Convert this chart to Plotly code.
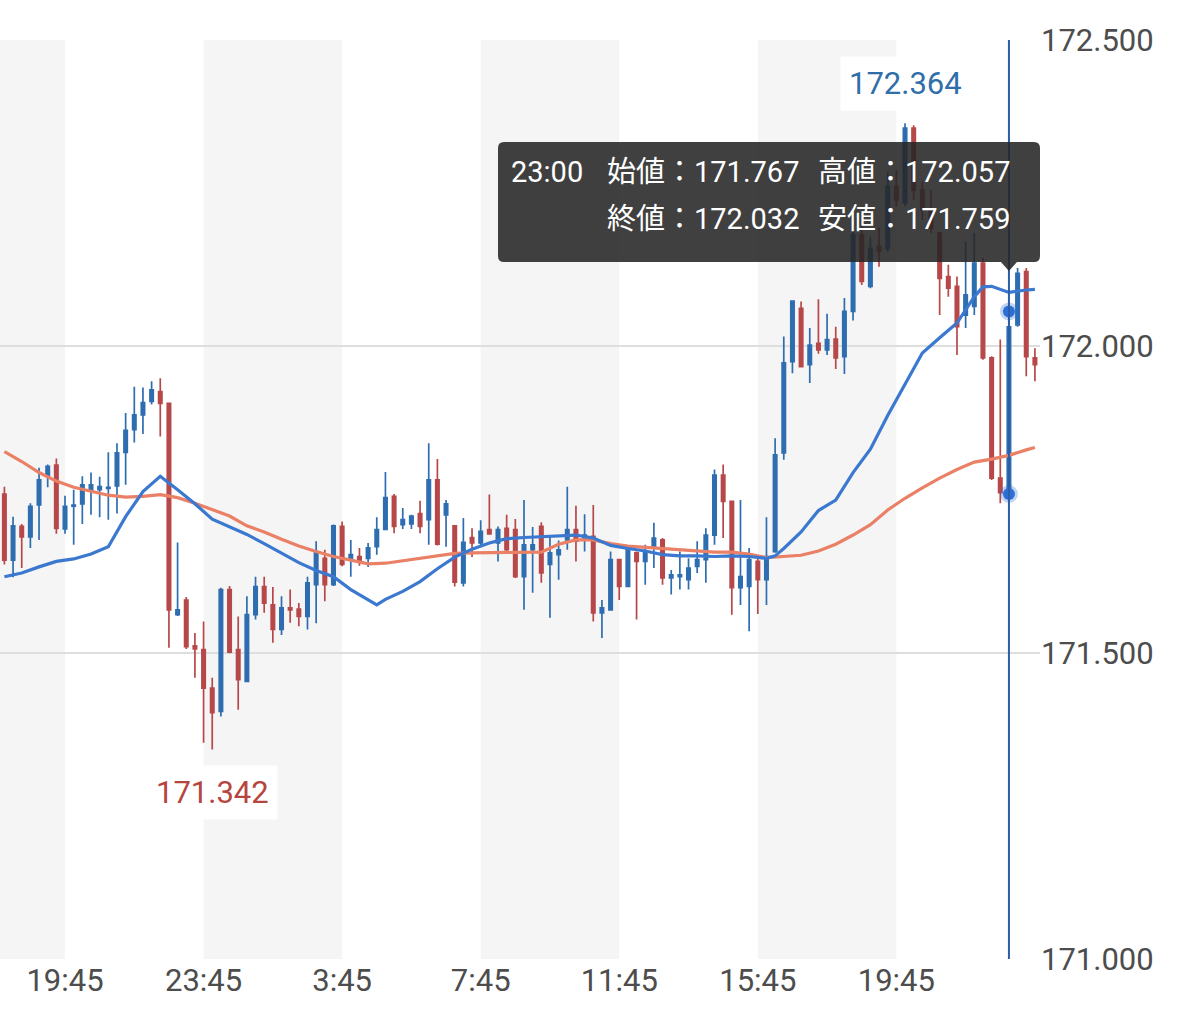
import pandas as pd
import plotly.graph_objects as go

# 15分足 (18:00 ～ 翌日 23:45)
times = pd.date_range("2024-06-11 18:00", periods=120, freq="15min")

opens = [171.759, 171.651, 171.706, 171.689, 171.741, 171.788, 171.806, 171.702, 171.739, 171.743,
         171.765, 171.766, 171.768, 171.772, 171.827, 171.864, 171.888, 171.910, 171.926, 171.907,
         171.562, 171.586, 171.511, 171.505, 171.442, 171.404, 171.603, 171.505, 171.453, 171.562,
         171.608, 171.578, 171.538, 171.573, 171.571, 171.559, 171.611, 171.654, 171.611, 171.706,
         171.652, 171.657, 171.654, 171.673, 171.701, 171.755, 171.709, 171.710, 171.727, 171.717,
         171.782, 171.725, 171.707, 171.614, 171.688, 171.679, 171.701, 171.679, 171.703, 171.701,
         171.624, 171.668, 171.706, 171.644, 171.660, 171.684, 171.701, 171.684, 171.690, 171.565,
         171.570, 171.652, 171.608, 171.663, 171.649, 171.673, 171.684, 171.622, 171.624, 171.619,
         171.641, 171.652, 171.692, 171.790, 171.747, 171.606, 171.608, 171.649, 171.619, 171.665,
         171.826, 171.975, 172.062, 171.970, 172.005, 171.994, 172.012, 171.983, 172.057, 172.182,
         172.098, 172.163, 172.160, 172.261, 172.234, 172.356, 172.255, 172.223, 172.185, 172.114,
         172.098, 172.051, 172.065, 172.136, 171.981, 171.785, 171.767, 172.035, 172.122, 171.981]
highs = [171.771, 171.722, 171.710, 171.744, 171.802, 171.807, 171.817, 171.756, 171.766, 171.788,
         171.794, 171.787, 171.827, 171.842, 171.891, 171.934, 171.933, 171.943, 171.948, 171.908,
         171.680, 171.591, 171.532, 171.551, 171.459, 171.606, 171.609, 171.559, 171.592, 171.624,
         171.624, 171.607, 171.592, 171.603, 171.581, 171.624, 171.682, 171.668, 171.709, 171.714,
         171.684, 171.671, 171.679, 171.721, 171.795, 171.759, 171.736, 171.725, 171.748, 171.842,
         171.816, 171.749, 171.708, 171.720, 171.703, 171.716, 171.758, 171.706, 171.725, 171.718,
         171.749, 171.705, 171.713, 171.690, 171.683, 171.771, 171.740, 171.726, 171.741, 171.586,
         171.665, 171.653, 171.668, 171.665, 171.676, 171.712, 171.687, 171.635, 171.665, 171.654,
         171.682, 171.703, 171.799, 171.807, 171.748, 171.749, 171.671, 171.655, 171.721, 171.850,
         172.016, 172.075, 172.073, 172.030, 172.077, 172.053, 172.032, 172.079, 172.198, 172.206,
         172.179, 172.193, 172.285, 172.288, 172.364, 172.361, 172.269, 172.255, 172.187, 172.133,
         172.114, 172.171, 172.185, 172.144, 171.984, 172.011, 172.057, 172.128, 172.128, 171.997]
lows = [171.644, 171.623, 171.638, 171.671, 171.684, 171.770, 171.694, 171.694, 171.676, 171.710,
        171.725, 171.721, 171.717, 171.727, 171.774, 171.843, 171.857, 171.905, 171.853, 171.508,
        171.560, 171.506, 171.459, 171.353, 171.342, 171.396, 171.499, 171.407, 171.452, 171.554,
        171.565, 171.516, 171.529, 171.549, 171.543, 171.538, 171.548, 171.584, 171.609, 171.641,
        171.624, 171.642, 171.640, 171.660, 171.700, 171.695, 171.702, 171.702, 171.695, 171.676,
        171.675, 171.673, 171.608, 171.608, 171.656, 171.675, 171.693, 171.649, 171.665, 171.622,
        171.570, 171.598, 171.614, 171.557, 171.619, 171.668, 171.649, 171.665, 171.551, 171.524,
        171.569, 171.586, 171.607, 171.554, 171.611, 171.638, 171.611, 171.595, 171.603, 171.603,
        171.630, 171.614, 171.676, 171.687, 171.562, 171.578, 171.535, 171.563, 171.578, 171.663,
        171.815, 171.956, 171.966, 171.940, 171.988, 171.986, 171.963, 171.955, 172.042, 172.100,
        172.095, 172.130, 172.154, 172.228, 172.229, 172.239, 172.206, 172.185, 172.051, 172.081,
        171.986, 172.030, 172.051, 171.978, 171.782, 171.744, 171.759, 172.032, 171.951, 171.943]
closes = [171.651, 171.707, 171.689, 171.739, 171.782, 171.804, 171.703, 171.739, 171.741, 171.774,
          171.774, 171.771, 171.770, 171.826, 171.863, 171.888, 171.908, 171.929, 171.907, 171.570,
          171.570, 171.510, 171.506, 171.442, 171.402, 171.603, 171.501, 171.456, 171.562, 171.608,
          171.581, 171.538, 171.573, 171.570, 171.559, 171.614, 171.665, 171.611, 171.707, 171.644,
          171.660, 171.649, 171.671, 171.701, 171.753, 171.706, 171.717, 171.723, 171.706, 171.782,
          171.677, 171.743, 171.615, 171.680, 171.679, 171.698, 171.694, 171.701, 171.668, 171.624,
          171.676, 171.676, 171.630, 171.663, 171.668, 171.701, 171.682, 171.692, 171.565, 171.573,
          171.652, 171.608, 171.668, 171.649, 171.663, 171.687, 171.622, 171.627, 171.627, 171.638,
          171.652, 171.692, 171.790, 171.747, 171.606, 171.624, 171.652, 171.619, 171.657, 171.823,
          171.973, 172.074, 171.967, 172.002, 171.994, 172.011, 171.981, 172.057, 172.182, 172.106,
          172.160, 172.155, 172.261, 172.239, 172.356, 172.255, 172.223, 172.193, 172.111, 172.095,
          172.032, 172.084, 172.136, 171.981, 171.785, 171.761, 172.032, 172.119, 171.983, 171.970]

# 移動平均線 (読み取り値)
ma_fast_idx = [0, 2, 4, 6, 8, 10, 12, 13, 14, 16, 18, 20, 22, 24, 26, 28, 30, 32, 34, 36, 38, 40,
               42, 43, 44, 46, 48, 50, 52, 54, 56, 58, 60, 62, 64, 66, 68, 70, 72, 74, 76, 78, 80,
               82, 84, 86, 88, 89, 90, 92, 94, 96, 98, 100, 102, 104, 106, 108, 110, 112, 113, 114,
               116, 118, 119]
ma_fast = [171.624, 171.630, 171.640, 171.649, 171.653, 171.661, 171.673, 171.697, 171.722, 171.763,
           171.788, 171.766, 171.743, 171.718, 171.706, 171.693, 171.678, 171.662, 171.647, 171.634,
           171.624, 171.603, 171.586, 171.578, 171.587, 171.600, 171.616, 171.637, 171.656, 171.669,
           171.679, 171.686, 171.688, 171.689, 171.690, 171.692, 171.687, 171.675, 171.670, 171.666,
           171.660, 171.658, 171.658, 171.657, 171.658, 171.657, 171.654, 171.658, 171.670, 171.697,
           171.732, 171.749, 171.794, 171.832, 171.887, 171.937, 171.989, 172.014, 172.038, 172.081,
           172.097, 172.098, 172.088, 172.092, 172.093]
ma_slow_idx = list(range(0, 120, 2)) + [119]
ma_slow = [171.828, 171.812, 171.794, 171.780, 171.770, 171.763, 171.757, 171.754, 171.755, 171.758,
           171.753, 171.744, 171.734, 171.723, 171.707, 171.697, 171.685, 171.674, 171.665, 171.657,
           171.651, 171.645, 171.646, 171.650, 171.654, 171.659, 171.662, 171.663, 171.663, 171.663,
           171.663, 171.664, 171.677, 171.684, 171.684, 171.678, 171.674, 171.672, 171.670, 171.668,
           171.666, 171.664, 171.664, 171.661, 171.655, 171.657, 171.659, 171.666, 171.677, 171.692,
           171.709, 171.733, 171.752, 171.769, 171.785, 171.799, 171.811, 171.816, 171.822, 171.831,
           171.835]

y_ticks = [171.0, 171.5, 172.0, 172.5]
x_ticks = pd.date_range("2024-06-11 19:45", periods=7, freq="4h")
hover_i = 116  # 23:00 の足

BLUE = "#2e6db0"
RED = "#b7484a"
FONT = "Roboto, 'Noto Sans CJK JP', sans-serif"
AXIS_GRAY = "#4d4d4d"

fig = go.Figure()

fig.add_trace(go.Candlestick(
    x=times, open=opens, high=highs, low=lows, close=closes,
    increasing=dict(line=dict(color=BLUE, width=1.7), fillcolor=BLUE),
    decreasing=dict(line=dict(color=RED, width=1.7), fillcolor=RED),
    whiskerwidth=0, hoverinfo="skip", showlegend=False,
))
fig.add_trace(go.Scatter(x=[times[i] for i in ma_slow_idx], y=ma_slow, mode="lines",
                         line=dict(color="#ea8066", width=3.2), hoverinfo="skip", showlegend=False))
fig.add_trace(go.Scatter(x=[times[i] for i in ma_fast_idx], y=ma_fast, mode="lines",
                         line=dict(color="#3b78cf", width=3.2), hoverinfo="skip", showlegend=False))

x_left = pd.Timestamp("2024-06-11 17:52:23")
x_right = pd.Timestamp("2024-06-12 23:53:48")

# 背景の縞
band_edges = [x_left] + list(x_ticks)
for k in range(0, len(band_edges) - 1, 2):
    fig.add_shape(type="rect", xref="x", yref="paper", x0=band_edges[k], x1=band_edges[k + 1],
                  y0=0, y1=1, fillcolor="#f5f5f5", line_width=0, layer="below")

# カーソル線とマーカー
fig.add_shape(type="line", xref="x", yref="paper", x0=times[hover_i], x1=times[hover_i], y0=0, y1=1,
              line=dict(color="#2b5ea7", width=2), layer="above")
fig.add_trace(go.Scatter(x=[times[hover_i]] * 2, y=[highs[hover_i], lows[hover_i]], mode="markers",
                         marker=dict(size=12, color="#2f6fd6",
                                     line=dict(color="rgba(47,111,214,0.3)", width=6)),
                         hoverinfo="skip", showlegend=False))

# 最高値・最安値ラベル
i_hi = highs.index(max(highs))
i_lo = lows.index(min(lows))
fig.add_annotation(x=times[i_hi], y=highs[i_hi], text=f"{highs[i_hi]:.3f}", showarrow=False, yshift=40,
                   font=dict(family=FONT, size=31, color="#2f6ea9"), bgcolor="white", borderpad=8)
fig.add_annotation(x=times[i_lo], y=lows[i_lo], text=f"{lows[i_lo]:.3f}", showarrow=False, yshift=-43,
                   font=dict(family=FONT, size=31, color="#b5453e"), bgcolor="white", borderpad=8)

# ツールチップ
W, H = 1040.0, 919.0
def px(x):
    return x / W
def py(y):
    return (959 - y) / H
x0, x1, y0, y1, r = 498, 1040, 142, 262, 6
tip = (times[hover_i] - x_left) / (x_right - x_left) * W
path = (f"M {px(x0 + r)},{py(y0)} L {px(x1 - r)},{py(y0)} Q {px(x1)},{py(y0)} {px(x1)},{py(y0 + r)} "
        f"L {px(x1)},{py(y1 - r)} Q {px(x1)},{py(y1)} {px(x1 - r)},{py(y1)} "
        f"L {px(tip + 8)},{py(y1)} L {px(tip)},{py(y1 + 9)} L {px(tip - 8)},{py(y1)} "
        f"L {px(x0 + r)},{py(y1)} Q {px(x0)},{py(y1)} {px(x0)},{py(y1 - r)} "
        f"L {px(x0)},{py(y0 + r)} Q {px(x0)},{py(y0)} {px(x0 + r)},{py(y0)} Z")
fig.add_shape(type="path", xref="paper", yref="paper", path=path,
              fillcolor="rgba(38,38,38,0.88)", line_width=0, layer="above")

tt_font = dict(family=FONT, size=29, color="white")
t_label = times[hover_i].strftime("%-H:%M")
tooltip_parts = [
    (510, 172, t_label),
    (606, 172, f"始値：{opens[hover_i]:.3f}"),
    (817, 172, f"高値：{highs[hover_i]:.3f}"),
    (606, 219, f"終値：{closes[hover_i]:.3f}"),
    (817, 219, f"安値：{lows[hover_i]:.3f}"),
]
for tx, ty, txt in tooltip_parts:
    fig.add_annotation(xref="paper", yref="paper", x=px(tx), y=py(ty), xanchor="left", yanchor="middle",
                       text=txt, showarrow=False, font=tt_font, borderpad=0)

fig.update_layout(
    width=1179, height=1017,
    margin=dict(l=0, r=139, t=40, b=58),
    plot_bgcolor="white", paper_bgcolor="white",
    boxgap=0.45,
    font=dict(family=FONT, size=31, color=AXIS_GRAY),
    xaxis=dict(type="date", range=[x_left, x_right], rangeslider=dict(visible=False),
               tickvals=x_ticks, tickformat="%-H:%M", showgrid=False, zeroline=False,
               ticks="", showline=False, tickfont=dict(size=31, color=AXIS_GRAY)),
    yaxis=dict(side="right", range=[171.0, 172.5], tickvals=y_ticks, tickformat=".3f",
               showgrid=True, gridcolor="#dedede", gridwidth=1.5, zeroline=False, ticks="",
               showline=False, tickfont=dict(size=31, color=AXIS_GRAY)),
)

fig.write_html("out.html", config={"displayModeBar": False},
               post_script="document.body.style.margin = '0px';")
